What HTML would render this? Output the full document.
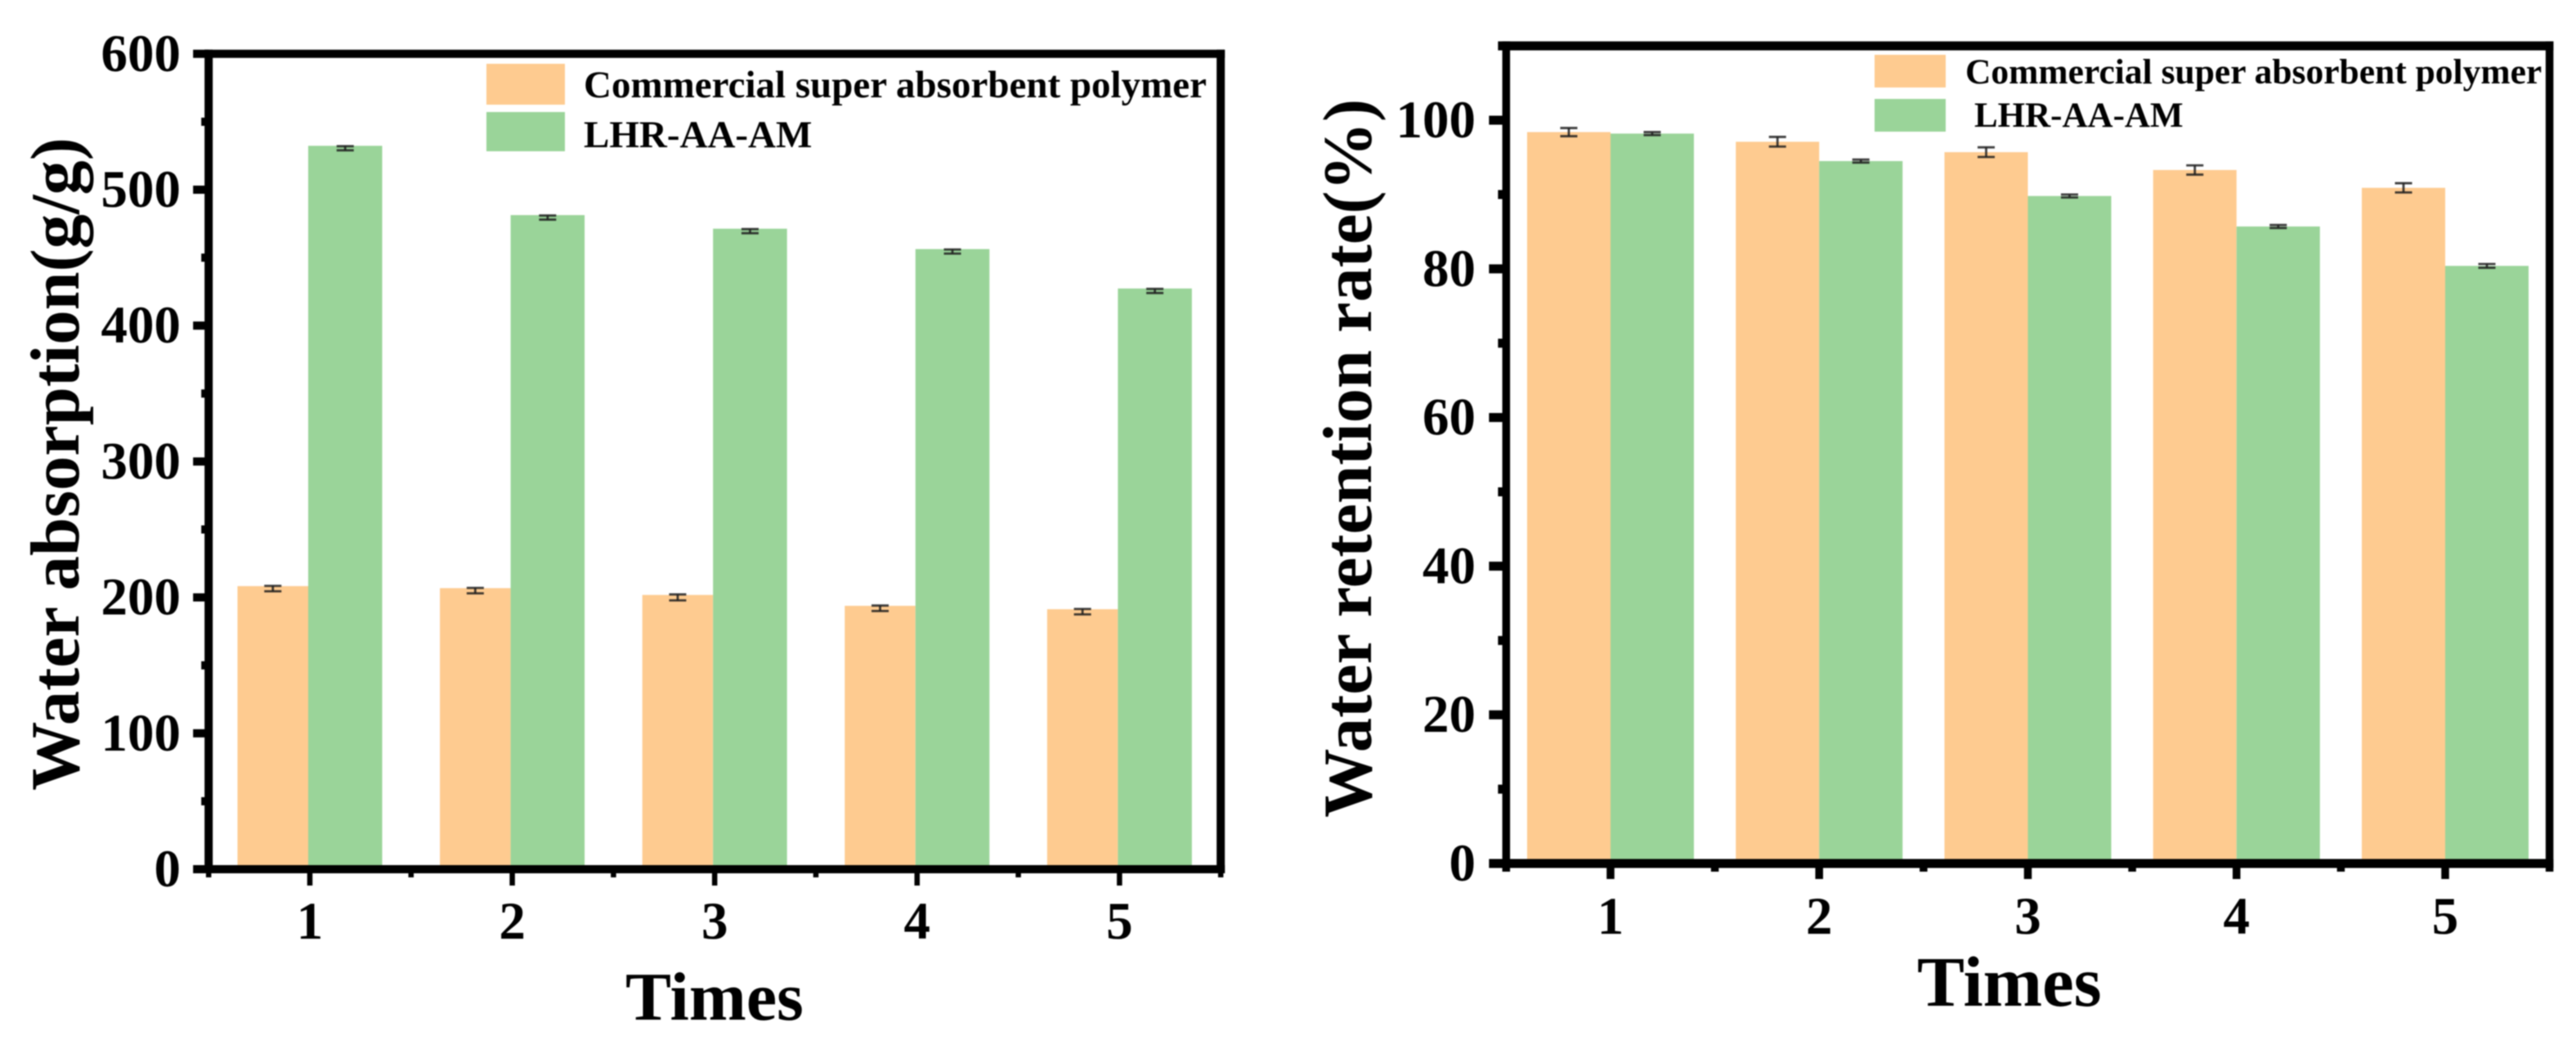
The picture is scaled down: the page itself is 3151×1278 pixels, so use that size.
<!DOCTYPE html>
<html lang="en">
<head>
<meta charset="utf-8">
<title>Water absorption and retention charts</title>
<style>
  html, body { margin: 0; padding: 0; background: #ffffff; }
  #figure { display: block; width: 3151px; height: 1278px; filter: blur(0.8px); }
  text { font-family: "Liberation Serif", "Times New Roman", serif; font-weight: bold; fill: #000; }
</style>
</head>
<body>
<svg id="figure" xmlns="http://www.w3.org/2000/svg" width="3151" height="1278" viewBox="0 0 3151 1278">
  <rect x="0" y="0" width="3151" height="1278" fill="#ffffff"></rect>
  <g id="left-chart"></g>
  <g id="right-chart"></g>

  <text transform="translate(96 967) rotate(-90)" font-size="84.5">Water absorption(g/g)</text>
  <text x="765" y="1247" font-size="84">Times</text>
  <rect x="595" y="78" width="96" height="50" fill="#FECB90"></rect>
  <rect x="595" y="137" width="96" height="48" fill="#9AD499"></rect>
  <text x="714" y="119" font-size="47">Commercial super absorbent polymer</text>
  <text x="714" y="180" font-size="47">LHR-AA-AM</text>

  <text transform="translate(1677 1000) rotate(-90)" font-size="84.5">Water retention rate(%)</text>
  <text x="2345" y="1230" font-size="87">Times</text>
  <rect x="2293" y="67" width="87" height="40" fill="#FECB90"></rect>
  <rect x="2293" y="121" width="87" height="40" fill="#9AD499"></rect>
  <text x="2404" y="102" font-size="43.5">Commercial super absorbent polymer</text>
  <text x="2415" y="155" font-size="43">LHR-AA-AM</text>
</svg>
<script>
const categories = [1, 2, 3, 4, 5];

const absorptionCommercial = [206.5, 205, 200, 192, 189.5];
const absorptionCommercialErr = [2, 2, 2.2, 2, 2];
const absorptionLhr = [530.5, 479.5, 469.5, 454.5, 425.5];
const absorptionLhrErr = [1.5, 1.5, 1.5, 1.5, 1.5];
const absorptionTicks = [0, 100, 200, 300, 400, 500, 600];
const absorptionMinorTicks = [50, 150, 250, 350, 450, 550];

const retentionCommercial = [98.4, 97.1, 95.7, 93.3, 90.9];
const retentionCommercialErr = [0.55, 0.65, 0.65, 0.62, 0.62];
const retentionLhr = [98.2, 94.5, 89.8, 85.7, 80.4];
const retentionLhrErr = [0.2, 0.2, 0.2, 0.2, 0.25];
const retentionTicks = [0, 20, 40, 60, 80, 100];
const retentionMinorTicks = [10, 30, 50, 70, 90, 110];

const xMinorTicks = [0.5, 1.5, 2.5, 3.5, 4.5, 5.5];

const NS = 'http://www.w3.org/2000/svg';

function mk(parent, tag, attrs) {
  const el = document.createElementNS(NS, tag);
  for (const k in attrs) el.setAttribute(k, attrs[k]);
  parent.appendChild(el);
  return el;
}

function drawChart(root, layout, seriesA, errA, seriesB, errB, majors, minors) {
  const x = c => layout.x1 + (c - 1) * layout.xStep;
  const y = v => layout.y0 - v * layout.yPerUnit;
  const top = y(layout.yMax);
  const bottom = y(0);
  const left = x(0.5);
  const right = x(5.5);

  categories.forEach((c, i) => {
    const split = x(c) + layout.barShift;
    const a = y(seriesA[i]) - layout.barBleed;
    const b = y(seriesB[i]) - layout.barBleed;
    const ra = mk(root, 'rect', { x: split - layout.wA, y: a, width: layout.wA, height: bottom - a, fill: '#FECB90' });
    
    
    const rb = mk(root, 'rect', { x: split, y: b, width: layout.wB, height: bottom - b, fill: '#9AD499' });
    
    
  });

  function errorBar(cx, v, e, name) {
    const g = mk(root, 'g', { stroke: '#1e1e1e', 'stroke-width': 2.8, 'stroke-opacity': 0.85 });
    
    
    mk(g, 'line', { x1: cx, x2: cx, y1: y(v + e), y2: y(v - e) });
    mk(g, 'line', { x1: cx - 10.5, x2: cx + 10.5, y1: y(v + e), y2: y(v + e) });
    mk(g, 'line', { x1: cx - 10.5, x2: cx + 10.5, y1: y(v - e), y2: y(v - e) });
  }
  categories.forEach((c, i) => {
    const split = x(c) + layout.barShift;
    errorBar(split - layout.wA / 2, seriesA[i], errA[i], 'error-bar-commercial-' + c);
    errorBar(split + layout.wB / 2, seriesB[i], errB[i], 'error-bar-lhr-' + c);
  });

  const hs = layout.spineY / 2;
  const vs = layout.spineX / 2;
  const frame = [
    ['top-spine', left - vs, top - hs, right - left + 2 * vs, 2 * hs],
    ['bottom-spine', left - vs, bottom - hs, right - left + 2 * vs, 2 * hs],
    ['left-spine', left - vs, top - hs, 2 * vs, bottom - top + 2 * hs],
    ['right-spine', right - vs, top - hs, 2 * vs, bottom - top + 2 * hs]
  ];
  frame.forEach(f => {
    const s = mk(root, 'rect', { x: f[1], y: f[2], width: f[3], height: f[4], fill: '#000' });
    
    
  });

  majors.forEach(v => {
    const t = mk(root, 'rect', { x: left - layout.yMajorLen, y: y(v) - hs, width: layout.yMajorLen, height: 2 * hs, fill: '#000' });
    
    
    const l = mk(root, 'text', { x: layout.yLabelX, y: y(v) + 21, 'text-anchor': 'end', 'font-size': 65 });
    l.textContent = String(v);
    
    
  });
  minors.forEach(v => {
    const t = mk(root, 'rect', { x: left - layout.yMinorLen, y: y(v) - hs, width: layout.yMinorLen, height: 2 * hs, fill: '#000' });
    
    
  });
  categories.forEach(c => {
    const t = mk(root, 'rect', { x: x(c) - layout.xTickW / 2, y: bottom, width: layout.xTickW, height: layout.xMajorEnd - bottom, fill: '#000' });
    
    
    const l = mk(root, 'text', { x: x(c), y: layout.xLabelY, 'text-anchor': 'middle', 'font-size': 65 });
    l.textContent = String(c);
    
    
  });
  xMinorTicks.forEach(c => {
    const t = mk(root, 'rect', { x: x(c) - layout.xTickW / 2, y: bottom, width: layout.xTickW, height: layout.xMinorEnd - bottom, fill: '#000' });
    
    
  });
}

drawChart(document.getElementById('left-chart'), {
  prefix: 'left', x1: 379, xStep: 247.6, y0: 1063, yPerUnit: 1.662, yMax: 600,
  barShift: -2, wA: 86.5, wB: 90.5, barBleed: 3,
  spineX: 10, spineY: 10, yMajorLen: 19, yMinorLen: 9, yLabelX: 221,
  xTickW: 6.5, xMajorEnd: 1083, xMinorEnd: 1073, xLabelY: 1148
}, absorptionCommercial, absorptionCommercialErr, absorptionLhr, absorptionLhrErr, absorptionTicks, absorptionMinorTicks);

drawChart(document.getElementById('right-chart'), {
  prefix: 'right', x1: 1970, xStep: 255.25, y0: 1056, yPerUnit: 9.09, yMax: 110,
  barShift: 0, wA: 102, wB: 102, barBleed: 0,
  spineX: 9.5, spineY: 11, yMajorLen: 21, yMinorLen: 10, yLabelX: 1805,
  xTickW: 9.5, xMajorEnd: 1075, xMinorEnd: 1066, xLabelY: 1142
}, retentionCommercial, retentionCommercialErr, retentionLhr, retentionLhrErr, retentionTicks, retentionMinorTicks);
</script>
</body>
</html>
